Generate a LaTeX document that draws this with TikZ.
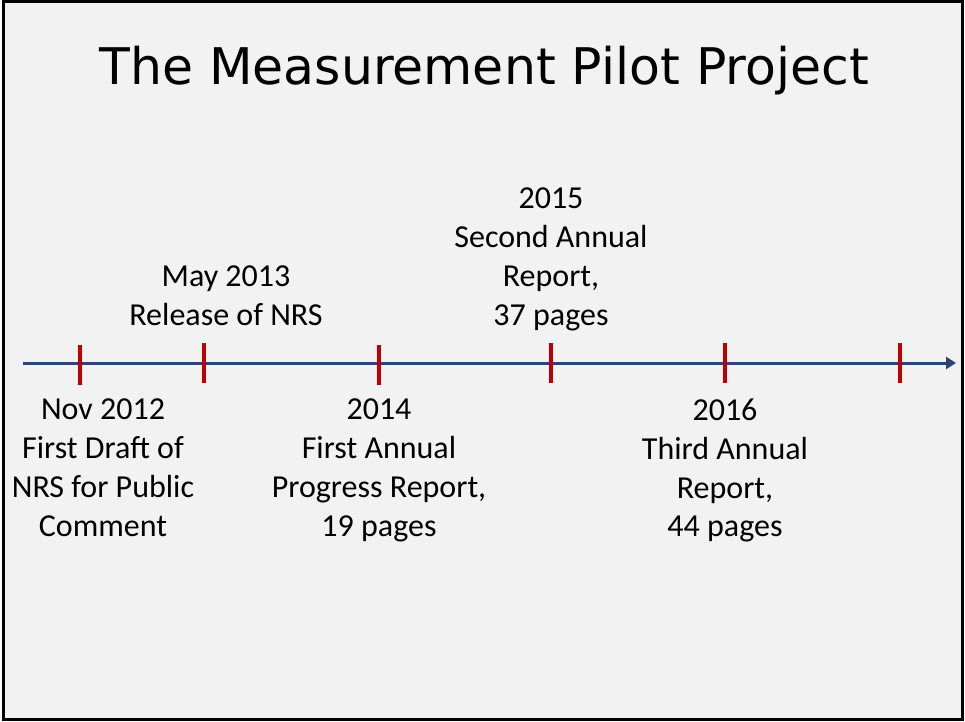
\documentclass[tikz,border=0pt]{standalone}
\usepackage{fontspec}
\setmainfont{Carlito}
\newfontfamily\titlefont{DejaVu Sans}
\usetikzlibrary{arrows.meta}

\definecolor{sfondo}{HTML}{F2F2F2}
\definecolor{asse}{HTML}{2B4474}
\definecolor{tacca}{HTML}{C00000}

\begin{document}
\begin{tikzpicture}[x=1pt,y=-1pt,
        every node/.style={font=\fontsize{32}{38.7}\selectfont, align=center, inner sep=0pt},
        etichetta/.style={anchor=north}]

        % Cornice della diapositiva
        \useasboundingbox (0,0) rectangle (965,721);
        \draw[line width=3pt, fill=sfondo] (3.5,1.5) rectangle (962.5,719.5);

        % Titolo
        \node[font=\titlefont\fontsize{50.5}{58}\selectfont] (titolo) at (484,71) {The Measurement Pilot Project};

        % Asse temporale
        \coordinate (inizio) at (23,363);
        \coordinate (fine) at (956,363);
        \draw[asse, line width=3pt, -{Triangle[length=10pt,width=12pt]}] (inizio) -- (fine);

        % Tacche rosse
        \foreach \x/\y in {80/345, 204/343, 379/345, 551/343, 725/343, 900/343}
            \draw[tacca, line width=4pt] (\x,\y) -- (\x,\y+40);

        % Etichette sotto l'asse
        \node[etichetta] (nov12) at (103,399) {Nov 2012\\First Draft of\\NRS for Public\\Comment};
        \node[etichetta] (anno14) at (379,399) {2014\\First Annual\\Progress Report,\\19 pages};
        \node[etichetta] (anno16) at (725,399) {2016\\Third Annual\\Report,\\44 pages};

        % Etichette sopra l'asse
        \node[etichetta] (mag13) at (226,266) {May 2013\\Release of NRS};
        \node[etichetta] (anno15) at (551,188) {2015\\Second Annual\\Report,\\37 pages};

    \end{tikzpicture}
\end{document}
